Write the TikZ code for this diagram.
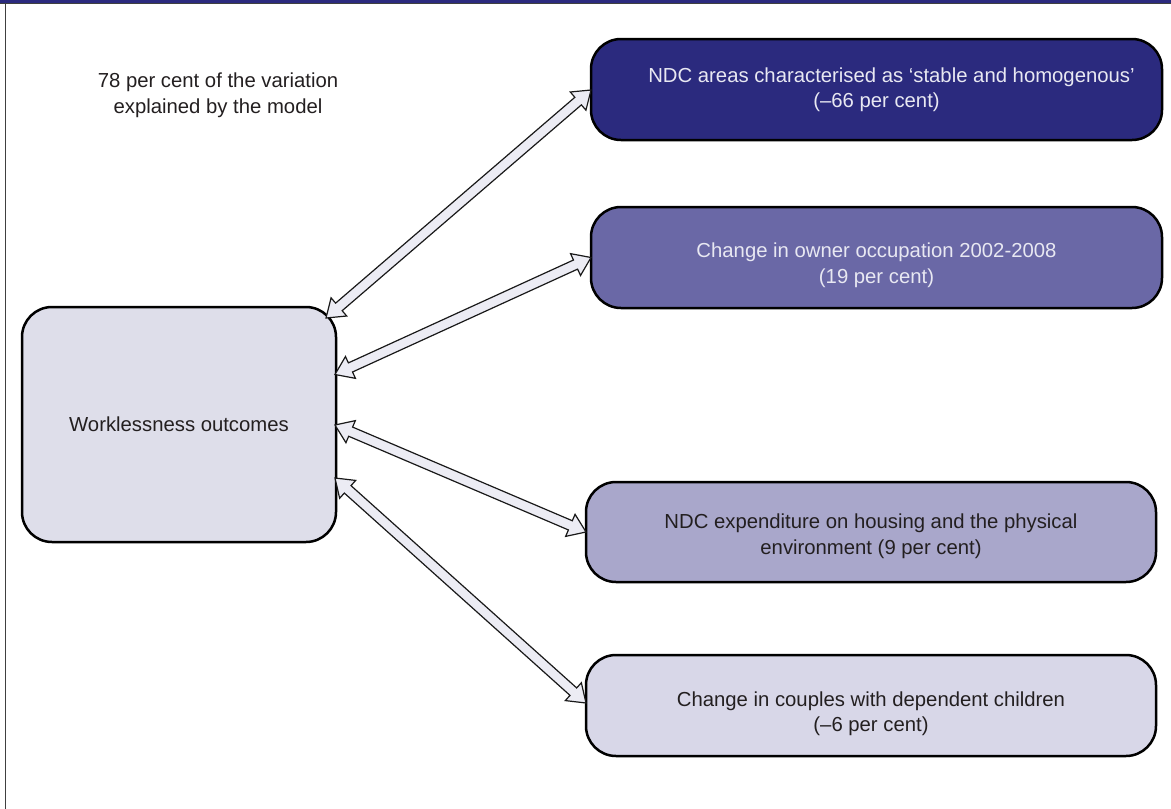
\documentclass[tikz,border=0pt]{standalone}
\usepackage{fontspec}
\setmainfont{Liberation Sans}
\usetikzlibrary{calc}

\definecolor{bandcol}{RGB}{43,42,126}
\definecolor{stablecol}{RGB}{43,42,126}
\definecolor{ownercol}{RGB}{106,104,166}
\definecolor{spendcol}{RGB}{169,167,203}
\definecolor{couplecol}{RGB}{216,215,232}
\definecolor{outcomecol}{RGB}{222,222,234}
\definecolor{arrowcol}{RGB}{236,236,244}
\definecolor{lighttext}{RGB}{232,232,242}
\definecolor{darktext}{RGB}{35,31,32}

% double-headed block arrow between two named points
\newcommand{\dblarrow}[2]{%
  \draw[blockarrow] (#1) -- ($(#1)!17pt!(#2)!12pt!90:(#2)$) -- ($(#1)!17pt!(#2)!5pt!90:(#2)$)
    -- ($(#2)!17pt!(#1)!5pt!-90:(#1)$) -- ($(#2)!17pt!(#1)!12pt!-90:(#1)$) -- (#2)
    -- ($(#2)!17pt!(#1)!12pt!90:(#1)$) -- ($(#2)!17pt!(#1)!5pt!90:(#1)$)
    -- ($(#1)!17pt!(#2)!5pt!-90:(#2)$) -- ($(#1)!17pt!(#2)!12pt!-90:(#2)$) -- cycle;}

\begin{document}
\begin{tikzpicture}[x=1pt,y=-1pt,line join=miter,
  every node/.style={font=\fontsize{20.3}{25.5}\selectfont,outer sep=0pt},
  box/.style={draw=black,line width=2.5pt,rounded corners=30pt,align=center},
  blockarrow/.style={draw=black!90,line width=1.2pt,fill=arrowcol},
]
\useasboundingbox (0,0) rectangle (1171,809);
%% frame
\fill[bandcol] (0,0) rectangle (1171,3.5);
\draw[black!75,line width=1.2pt] (0,3.8) -- (1171,3.8);
\draw[black!75,line width=1.5pt] (5.5,3.8) -- (5.5,809);
%% boxes
\node (varn) at (218,95) [align=center,text=darktext] {78 per cent of the variation\\explained by the model};
\node (wo) at (179,424.5) [box,fill=outcomecol,text=darktext,minimum width=314pt,minimum height=235pt] {Worklessness outcomes};
\node (n1) at (876.5,89.5) [box,fill=stablecol,text=lighttext,minimum width=571pt,minimum height=101pt] {\hspace*{30pt}NDC areas characterised as `stable and homogenous'\\(--66 per cent)};
\node (n2) at (876.5,257.5) [box,fill=ownercol,text=lighttext,minimum width=571pt,minimum height=101pt] {\rule{0pt}{30pt}Change in owner occupation 2002-2008\\(19 per cent)};
\node (n3) at (871,532) [box,fill=spendcol,text=darktext,minimum width=570pt,minimum height=100pt] {\rule{0pt}{23pt}NDC expenditure on housing and the physical\\environment (9 per cent)};
\node (n4) at (871,705.5) [box,fill=couplecol,text=darktext,minimum width=570pt,minimum height=101pt] {\rule{0pt}{31pt}Change in couples with dependent children\\(--6 per cent)};
%% arrow ends
\coordinate (w1) at ($(wo.north east)+(-10,11)$);
\coordinate (w2) at ($(wo.east)+(-1,-50)$);
\coordinate (w3) at ($(wo.east)+(-1,0.5)$);
\coordinate (w4) at ($(wo.east)+(-1,53.5)$);
\coordinate (s1) at ($(n1.west)+(0,0.5)$);
\coordinate (s2) at (n2.west);
\coordinate (s3) at (n3.west);
\coordinate (s4) at ($(n4.west)+(0,-2.5)$);
%% arrows
\dblarrow{w1}{s1}
\dblarrow{w2}{s2}
\dblarrow{w3}{s3}
\dblarrow{w4}{s4}
%
\end{tikzpicture}
\end{document}
